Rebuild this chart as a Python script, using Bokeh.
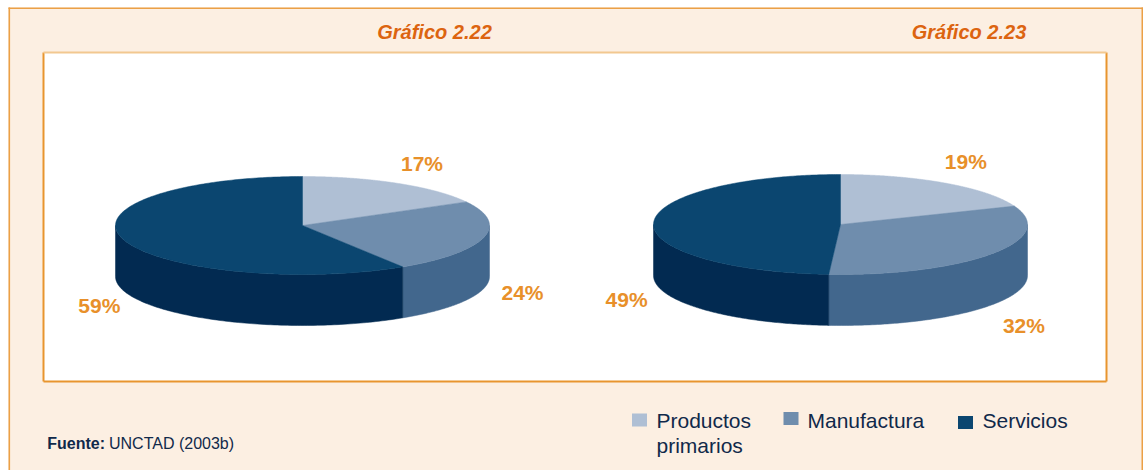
import numpy as np
from bokeh.plotting import figure
from bokeh.models import Range1d
from bokeh.core.properties import value
from bokeh.embed import file_html
from bokeh.resources import INLINE

# ---------------- data ----------------
categories = ["Productos primarios", "Manufactura", "Servicios"]
legend_lines = [["Productos", "primarios"], ["Manufactura"], ["Servicios"]]
chart_titles = ["Gráfico 2.22", "Gráfico 2.23"]
shares_222 = [17, 24, 59]
shares_223 = [19, 32, 49]
source_label = "Fuente:"
source_text = "UNCTAD (2003b)"

# ---------------- styles / layout ----------------
top_colors = ["#AFBFD4", "#6F8DAD", "#0B4670"]
side_colors = ["#8497B0", "#42678D", "#022A51"]
bg = "#FCEFE2"
label_color = "#E8902A"
title_color = "#DC6410"
text_color = "#10294A"
SANS = "Liberation Sans"

W, H = 1143, 470
p = figure(width=W, height=H, x_range=Range1d(0, W), y_range=Range1d(H, 0),
           output_backend="svg", toolbar_location=None, min_border=0,
           x_axis_location=None, y_axis_location=None)
p.grid.visible = False
p.outline_line_color = None
p.background_fill_color = "white"
p.border_fill_color = "white"

# outer cream panel with orange frame
p.quad(left=8, right=W + 5, top=7, bottom=H + 5, fill_color=bg, line_color=None)
p.multi_line(xs=[[8.8, 8.8], [8, 1143], [1141.8, 1141.8]], ys=[[7, 470], [7.8, 7.8], [7, 470]],
             line_color="#EBA046", line_width=1.6)

# inner white box
L, R, T, B = 43, 1106, 52, 381
p.quad(left=L, right=R, top=T, bottom=B, fill_color="white", line_color=None)
p.multi_line(xs=[[L, L], [R, R], [L, R]], ys=[[T, B], [T, B], [B, B]],
             line_color="#E8952E", line_width=2)
p.line(x=[L, R], y=[T, T], line_color="#F2C890", line_width=2)


def pie3d(cx, cy, rx, ry, depth, shares, nudges):
    total = float(sum(shares))
    cum = np.concatenate([[0.0], np.cumsum(shares)]) / total
    start = 90 - 360 * cum[:-1]
    end = 90 - 360 * cum[1:]
    sx, sy, sc = [], [], []
    tx, ty, tc = [], [], []
    for i in range(len(shares)):
        hi, lo = start[i], end[i]
        for a0, a1 in [(-180, 0), (180, 360), (-540, -360)]:
            s0, s1 = max(lo, a0), min(hi, a1)
            if s1 > s0:
                t = np.radians(np.linspace(s0, s1, 120))
                x = cx + rx * np.cos(t)
                y = cy - ry * np.sin(t)
                sx.append(list(np.concatenate([x, x[::-1]])))
                sy.append(list(np.concatenate([y, (y + depth)[::-1]])))
                sc.append(side_colors[i])
        t = np.radians(np.linspace(hi, lo, 240))
        tx.append(list(np.concatenate([[cx], cx + rx * np.cos(t)])))
        ty.append(list(np.concatenate([[cy], cy - ry * np.sin(t)])))
        tc.append(top_colors[i])
    p.patches(xs=sx, ys=sy, fill_color=sc, line_color=sc, line_width=0.5)
    p.patches(xs=tx, ys=ty, fill_color=tc, line_color=tc, line_width=0.5)
    # labels
    mid = np.radians((start + end) / 2)
    lx, ly, lt = [], [], []
    for i in range(len(shares)):
        ax = cx + (rx + 36) * np.cos(mid[i])
        ay = cy - (ry + 24) * np.sin(mid[i]) + (55 if np.sin(mid[i]) < 0.1 else 0)
        lx.append(ax + nudges[i][0])
        ly.append(ay + nudges[i][1])
        lt.append(f"{shares[i]}%")
    p.text(x=lx, y=ly, text=lt, text_font=value(SANS), text_font_style="bold",
           text_font_size="21px", text_color=label_color, text_align="center",
           text_baseline="middle")


pie3d(302, 225, 187, 49, 51, shares_222, [(6, 1), (4, -6), (11, 5)])
pie3d(840, 224, 187, 50, 51, shares_223, [(0, -2), (3, 3), (9, 22)])

# titles
p.text(x=[434, 968.5], y=[31, 31], text=chart_titles, text_font=value(SANS),
       text_font_style="bold italic", text_font_size="20px", text_color=title_color,
       text_align="center", text_baseline="middle")

# legend
sq_x = [639, 790.5, 965]
sq_y = [419.5, 418, 422]
txt_x = [656, 807, 982]
p.rect(x=sq_x, y=sq_y, width=15, height=13, fill_color=top_colors, line_color=None)
lx, ly, lt = [], [], []
for i, lines in enumerate(legend_lines):
    for j, s in enumerate(lines):
        lx.append(txt_x[i])
        ly.append(420.3 + 25 * j)
        lt.append(s)
p.text(x=lx, y=ly, text=lt, text_font=value(SANS), text_font_size="21px",
       text_color=text_color, text_align="left", text_baseline="middle")

# source
p.text(x=[46.7], y=[442.7], text=[source_label], text_font=value(SANS),
       text_font_style="bold", text_font_size="16px", text_color=text_color,
       text_align="left", text_baseline="middle")
p.text(x=[108.5], y=[442.7], text=[source_text], text_font=value(SANS),
       text_font_size="16px", text_color=text_color,
       text_align="left", text_baseline="middle")

open("out.html", "w").write(file_html(p, INLINE))
